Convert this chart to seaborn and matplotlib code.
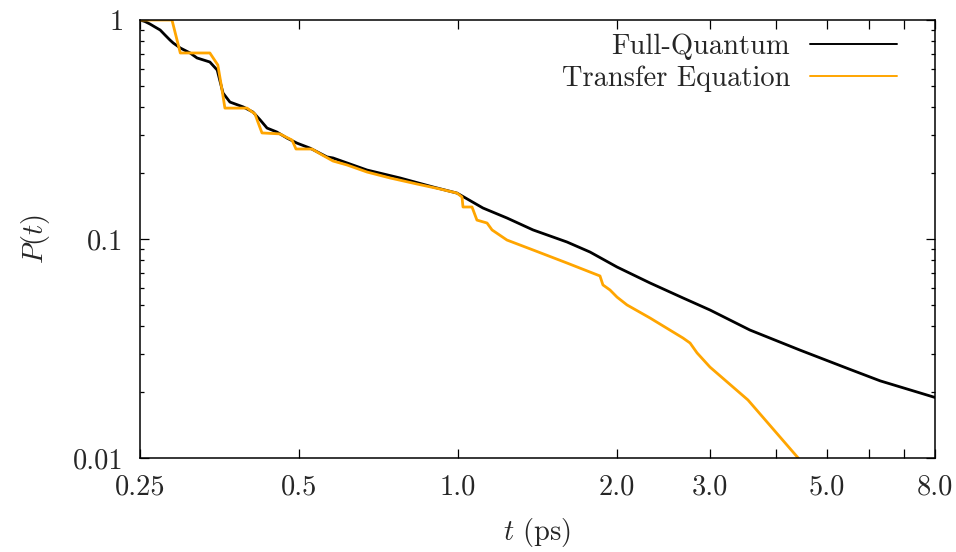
import numpy as np
import pandas as pd
import matplotlib
matplotlib.use("Agg")
import matplotlib.pyplot as plt
import seaborn as sns
from matplotlib.ticker import FixedLocator, NullFormatter

# Full-Quantum P(t)
t_fq = [0.25, 0.2555, 0.261, 0.2669, 0.273, 0.2788, 0.2849, 0.289, 0.298, 0.311, 0.3205,
        0.339, 0.350, 0.359, 0.370, 0.392, 0.409, 0.422, 0.435, 0.454, 0.4745, 0.4957,
        0.5246, 0.565, 0.580, 0.6726, 0.7766, 0.897, 0.996, 1.115, 1.238, 1.387, 1.608,
        1.778, 2.0, 2.309, 2.667, 3.0, 3.57, 4.44, 5.52, 6.30, 8.0]
p_fq = [1.0, 0.984, 0.959, 0.929, 0.900, 0.854, 0.810, 0.785, 0.745, 0.707, 0.671,
        0.643, 0.591, 0.464, 0.422, 0.401, 0.380, 0.350, 0.321, 0.308, 0.289, 0.274,
        0.260, 0.237, 0.2344, 0.2065, 0.190, 0.1728, 0.162, 0.1385, 0.1247, 0.110, 0.0969,
        0.0872, 0.0745, 0.063, 0.0538, 0.0474, 0.0384, 0.0311, 0.0254, 0.0225, 0.0189]

# Transfer Equation P(t)
t_te = [0.25, 0.2874, 0.2925, 0.298, 0.339, 0.351, 0.3575, 0.362, 0.3986, 0.4128,
        0.418, 0.4255, 0.460, 0.4725, 0.485, 0.4935, 0.529, 0.553, 0.580, 0.6164,
        0.6726, 0.7434, 0.836, 0.9245, 0.996, 1.0176, 1.022, 1.063, 1.086, 1.135,
        1.16, 1.238, 1.387, 1.608, 1.857, 1.881, 1.94, 2.0, 2.089, 2.309, 2.667,
        2.75, 2.835, 3.0, 3.54, 4.54]
p_te = [1.0, 1.0, 0.845, 0.707, 0.707, 0.623, 0.479, 0.396, 0.396, 0.372,
        0.342, 0.305, 0.302, 0.292, 0.283, 0.2576, 0.2576, 0.242, 0.227, 0.2178,
        0.2022, 0.190, 0.1783, 0.1692, 0.162, 0.1555, 0.140, 0.140, 0.122, 0.1183,
        0.110, 0.0989, 0.0891, 0.0777, 0.0678, 0.0617, 0.0585, 0.0543, 0.050, 0.0436, 0.0353,
        0.0335, 0.0302, 0.026, 0.0184, 0.0092]

x_ticks = [0.25, 0.5, 1.0, 2.0, 3.0, 4.0, 5.0, 6.0, 7.0, 8.0]
x_labels = ["0.25", "0.5", "1.0", "2.0", "3.0", "", "5.0", "", "", "8.0"]
y_ticks = [0.01, 0.1, 1]
y_labels = ["0.01", "0.1", "1"]

df = pd.concat([
    pd.DataFrame({"t": t_fq, "P": p_fq, "series": "Full-Quantum"}),
    pd.DataFrame({"t": t_te, "P": p_te, "series": "Transfer Equation"}),
])

sns.set_style("ticks")
plt.rcParams["font.family"] = "serif"
plt.rcParams["font.serif"] = ["cmr10", "DejaVu Serif"]
plt.rcParams["mathtext.fontset"] = "cm"
plt.rcParams["axes.unicode_minus"] = False

FS = 20.5
fig = plt.figure(figsize=(9.56, 5.52), dpi=100)
ax = fig.add_axes([140/956, 1-458/552, (935-140)/956, (458-20)/552])

sns.lineplot(data=df, x="t", y="P", hue="series",
             palette={"Full-Quantum": "black", "Transfer Equation": "#FFA500"},
             linewidth=2.0, ax=ax, sort=False, estimator=None)

ax.set_xscale("log")
ax.set_yscale("log")
ax.set_xlim(0.25, 8.0)
ax.set_ylim(0.01, 1)

ax.xaxis.set_major_locator(FixedLocator(x_ticks))
ax.set_xticklabels(x_labels)
ax.xaxis.set_minor_locator(FixedLocator([]))
ax.yaxis.set_major_locator(FixedLocator(y_ticks))
ax.set_yticklabels(y_labels)
ax.yaxis.set_minor_locator(FixedLocator([m * d for d in [0.01, 0.1] for m in range(2, 10)]))
ax.yaxis.set_minor_formatter(NullFormatter())

ax.tick_params(axis="both", which="major", direction="in", length=6.5, width=0.9,
               top=True, right=True, labelsize=FS, pad=12, color="black")
ax.tick_params(axis="both", which="minor", direction="in", length=3.2, width=0.9,
               top=True, right=True, color="black")
for s in ax.spines.values():
    s.set_linewidth(1.1)
    s.set_color("black")

ax.set_xlabel("$t$ (ps)", fontsize=FS, labelpad=11)
ax.set_ylabel("$P(t)$", fontsize=FS, labelpad=15)

leg = ax.legend(loc="upper right", bbox_to_anchor=(897/956, 1-33/552),
                bbox_transform=fig.transFigure, frameon=False, markerfirst=False,
                fontsize=FS, handlelength=3.05, handletextpad=0.7, labelspacing=0.2,
                borderpad=0, borderaxespad=0)
for h in leg.get_lines():
    h.set_linewidth(1.4)

fig.savefig("out.png", dpi=100)
